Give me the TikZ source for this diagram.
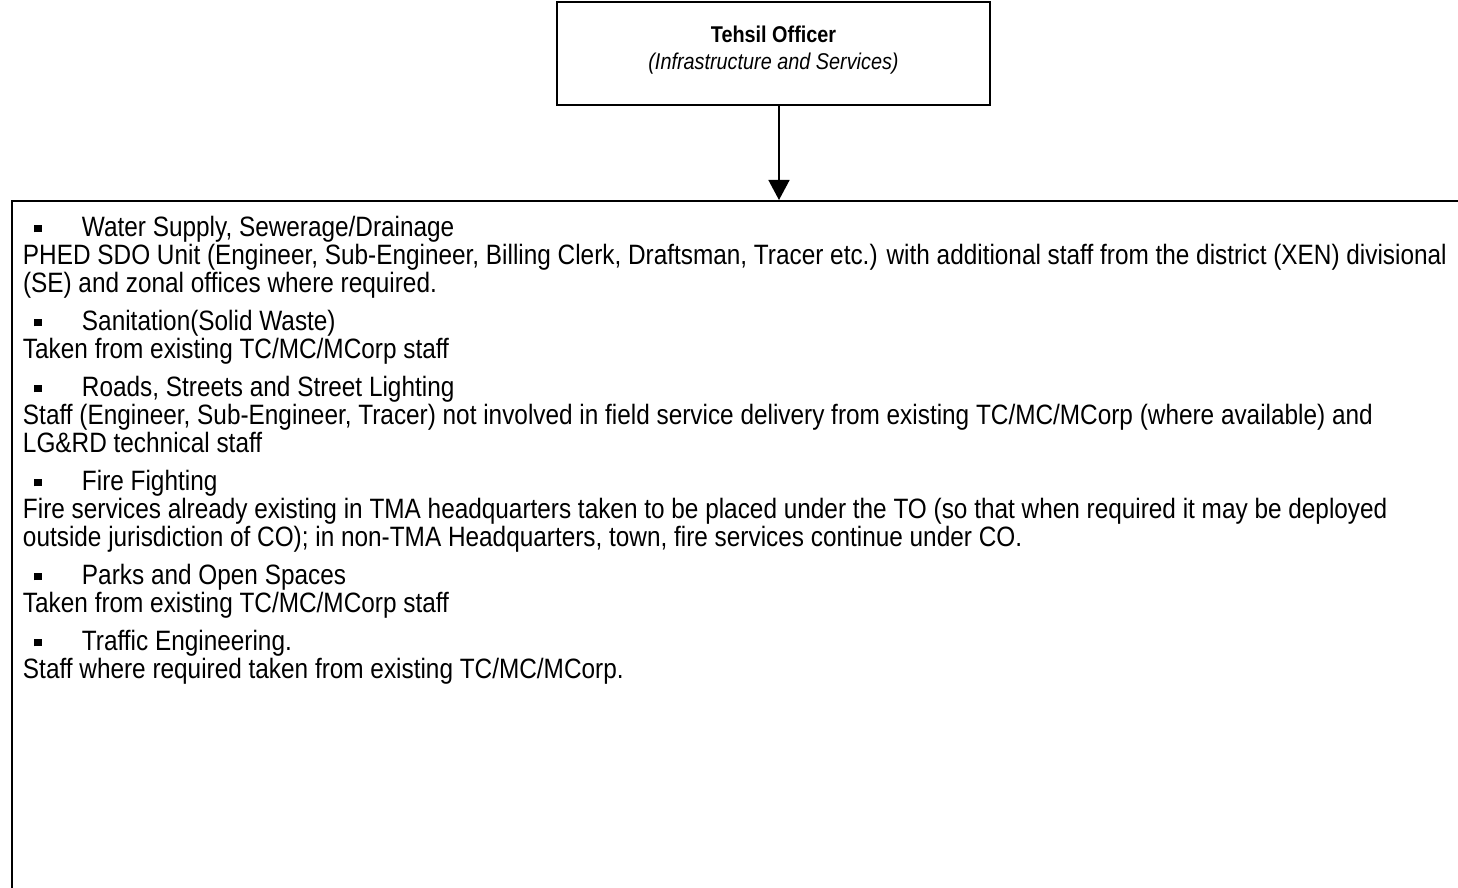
\documentclass[tikz,border=0pt]{standalone}
\usepackage{fontspec}
\setmainfont[FakeStretch=0.87]{Liberation Sans}
\usetikzlibrary{arrows.meta}
\newcommand{\sqbul}{\makebox[29.5pt][l]{\hspace{5.5pt}\rule[2.2pt]{3.8pt}{3.8pt}}}

\begin{document}
\begin{tikzpicture}[x=0.5pt,y=-0.5pt,every node/.style={font=\fontsize{14}{14}\selectfont,align=center},b/.style={draw,line width=1pt},>={Triangle[width=10.5pt,length=10pt]}]
\useasboundingbox (0,0) rectangle (1458,888);
\node[b,minimum width=216.5pt,minimum height=51.5pt,inner sep=0pt,font=\fontsize{11.4}{13.5}\selectfont,text depth=6pt] (to) at (773.5,53.5) {\textbf{Tehsil Officer}\\\textit{(Infrastructure and Services)}};
\coordinate (tip) at (779,200);
\draw[->,line width=0.75pt] (to.south -| tip)--(tip);
\node[b,anchor=north west,inner xsep=5.5pt,inner ysep=7.8pt] (duties) at (11,200) {\begin{minipage}[t][450pt][t]{730pt}\raggedright
\sqbul Water Supply, Sewerage/Drainage\\
PHED SDO Unit (Engineer, Sub-Engineer, Billing Clerk, Draftsman, Tracer etc.) with additional staff from the district (XEN) divisional\\
(SE) and zonal offices where required.\\[5pt]
\sqbul Sanitation(Solid Waste)\\
Taken from existing TC/MC/MCorp staff\\[5pt]
\sqbul Roads, Streets and Street Lighting\\
Staff (Engineer, Sub-Engineer, Tracer) not involved in field service delivery from existing TC/MC/MCorp (where available) and\\
LG\&RD technical staff\\[5pt]
\sqbul Fire Fighting\\
Fire services already existing in TMA headquarters taken to be placed under the TO (so that when required it may be deployed\\
outside jurisdiction of CO); in non-TMA Headquarters, town, fire services continue under CO.\\[5pt]
\sqbul Parks and Open Spaces\\
Taken from existing TC/MC/MCorp staff\\[5pt]
\sqbul Traffic Engineering.\\
Staff where required taken from existing TC/MC/MCorp.
\end{minipage}};
\end{tikzpicture}
\end{document}
